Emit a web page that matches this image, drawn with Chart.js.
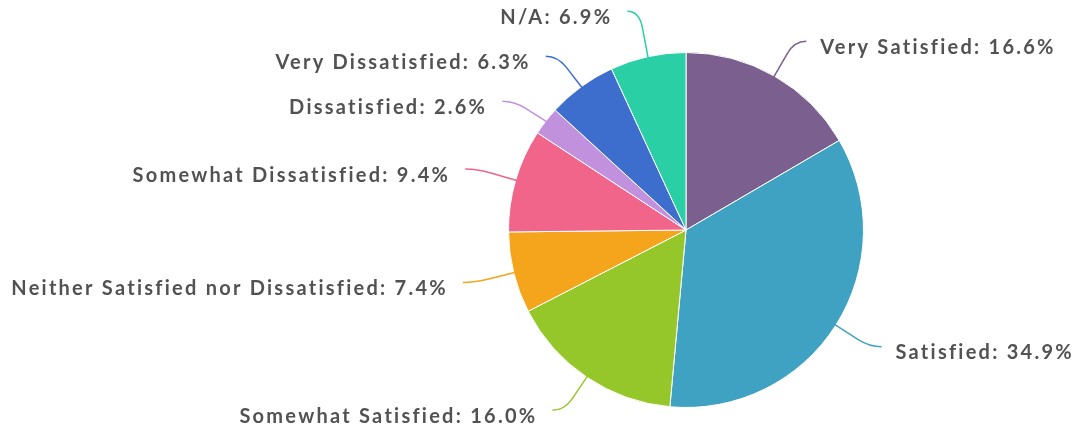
<!DOCTYPE html>
<html>
<head>
<meta charset="utf-8">
<script src="https://cdn.jsdelivr.net/npm/chart.js@4"></script>
<style>
    html, body { margin: 0; padding: 0; background: #fff; }
    #wrap { width: 1078px; height: 430px; }
</style>
</head>
<body>
<div id="wrap"><canvas id="pieChart"></canvas></div>
<script>
// Satisfaction survey breakdown (percent)
const categories = [
    'Very Satisfied',
    'Satisfied',
    'Somewhat Satisfied',
    'Neither Satisfied nor Dissatisfied',
    'Somewhat Dissatisfied',
    'Dissatisfied',
    'Very Dissatisfied',
    'N/A'
];
const percents = [16.6, 34.9, 16.0, 7.4, 9.4, 2.6, 6.3, 6.9];
const sliceColors = ['#7b5f8f', '#40a2c2', '#95c72b', '#f4a51c', '#f06589', '#c291dd', '#3e6ecd', '#2acfa5'];

const labelFont = 'bold 20px Lato';
const labelColor = '#525252';

// draws the callout lines and "Name: value%" labels next to each slice
const calloutPlugin = {
    id: 'callouts',
    afterDatasetsDraw(chart) {
        const ctx = chart.ctx;
        const arcs = chart.getDatasetMeta(0).data;
        const items = arcs.map((arc, i) => {
            const a = (arc.startAngle + arc.endAngle) / 2;
            const r = arc.outerRadius;
            const cos = Math.cos(a), sin = Math.sin(a);
            return {
                i: i,
                right: cos >= 0,
                p0: { x: arc.x + cos * (r - 1), y: arc.y + sin * (r - 1) },
                p1: { x: arc.x + cos * (r + 40), y: arc.y + sin * (r + 40) }
            };
        });

        // push labels apart on each side so they don't collide
        const minGap = 45;
        [true, false].forEach(side => {
            const group = items.filter(it => it.right === side).sort((m, n) => m.p1.y - n.p1.y);
            for (let k = 0; k < 60; k++) {
                for (let j = 1; j < group.length; j++) {
                    const d = minGap - (group[j].p1.y - group[j - 1].p1.y);
                    if (d > 0) {
                        group[j - 1].p1.y -= d / 2;
                        group[j].p1.y += d / 2;
                    }
                }
            }
        });

        ctx.save();
        ctx.font = labelFont;
        ctx.letterSpacing = '2.25px';
        items.forEach(it => {
            const dir = it.right ? 1 : -1;
            const p0 = it.p0, p1 = it.p1;
            const p2 = { x: p1.x + dir * 12, y: p1.y };
            const ax = p1.x + (p0.x - p1.x) * 0.35, ay = p1.y + (p0.y - p1.y) * 0.35;
            ctx.beginPath();
            ctx.moveTo(p0.x, p0.y);
            ctx.lineTo(ax, ay);
            ctx.quadraticCurveTo(p1.x, p1.y, p2.x, p2.y);
            ctx.strokeStyle = sliceColors[it.i];
            ctx.lineWidth = 1.5;
            ctx.stroke();

            const text = categories[it.i] + ': ' + percents[it.i].toFixed(1) + '%';
            ctx.fillStyle = labelColor;
            ctx.textBaseline = 'middle';
            if (it.right) {
                ctx.textAlign = 'left';
                ctx.fillText(text, p2.x + 14, p2.y + 6);
            } else {
                ctx.textAlign = 'right';
                ctx.fillText(text, p2.x - 15, p2.y + 6);
            }
        });
        ctx.restore();
    }
};

new Chart(document.getElementById('pieChart').getContext('2d'), {
    type: 'pie',
    data: {
        labels: categories,
        datasets: [{
            data: percents,
            backgroundColor: sliceColors,
            borderColor: '#ffffff',
            borderWidth: 1
        }]
    },
    options: {
        responsive: true,
        maintainAspectRatio: false,
        animation: false,
        layout: {
            padding: { left: 508, right: 214, top: 52, bottom: 22 }
        },
        plugins: {
            legend: { display: false },
            tooltip: { enabled: false }
        }
    },
    plugins: [calloutPlugin]
});
</script>
</body>
</html>
